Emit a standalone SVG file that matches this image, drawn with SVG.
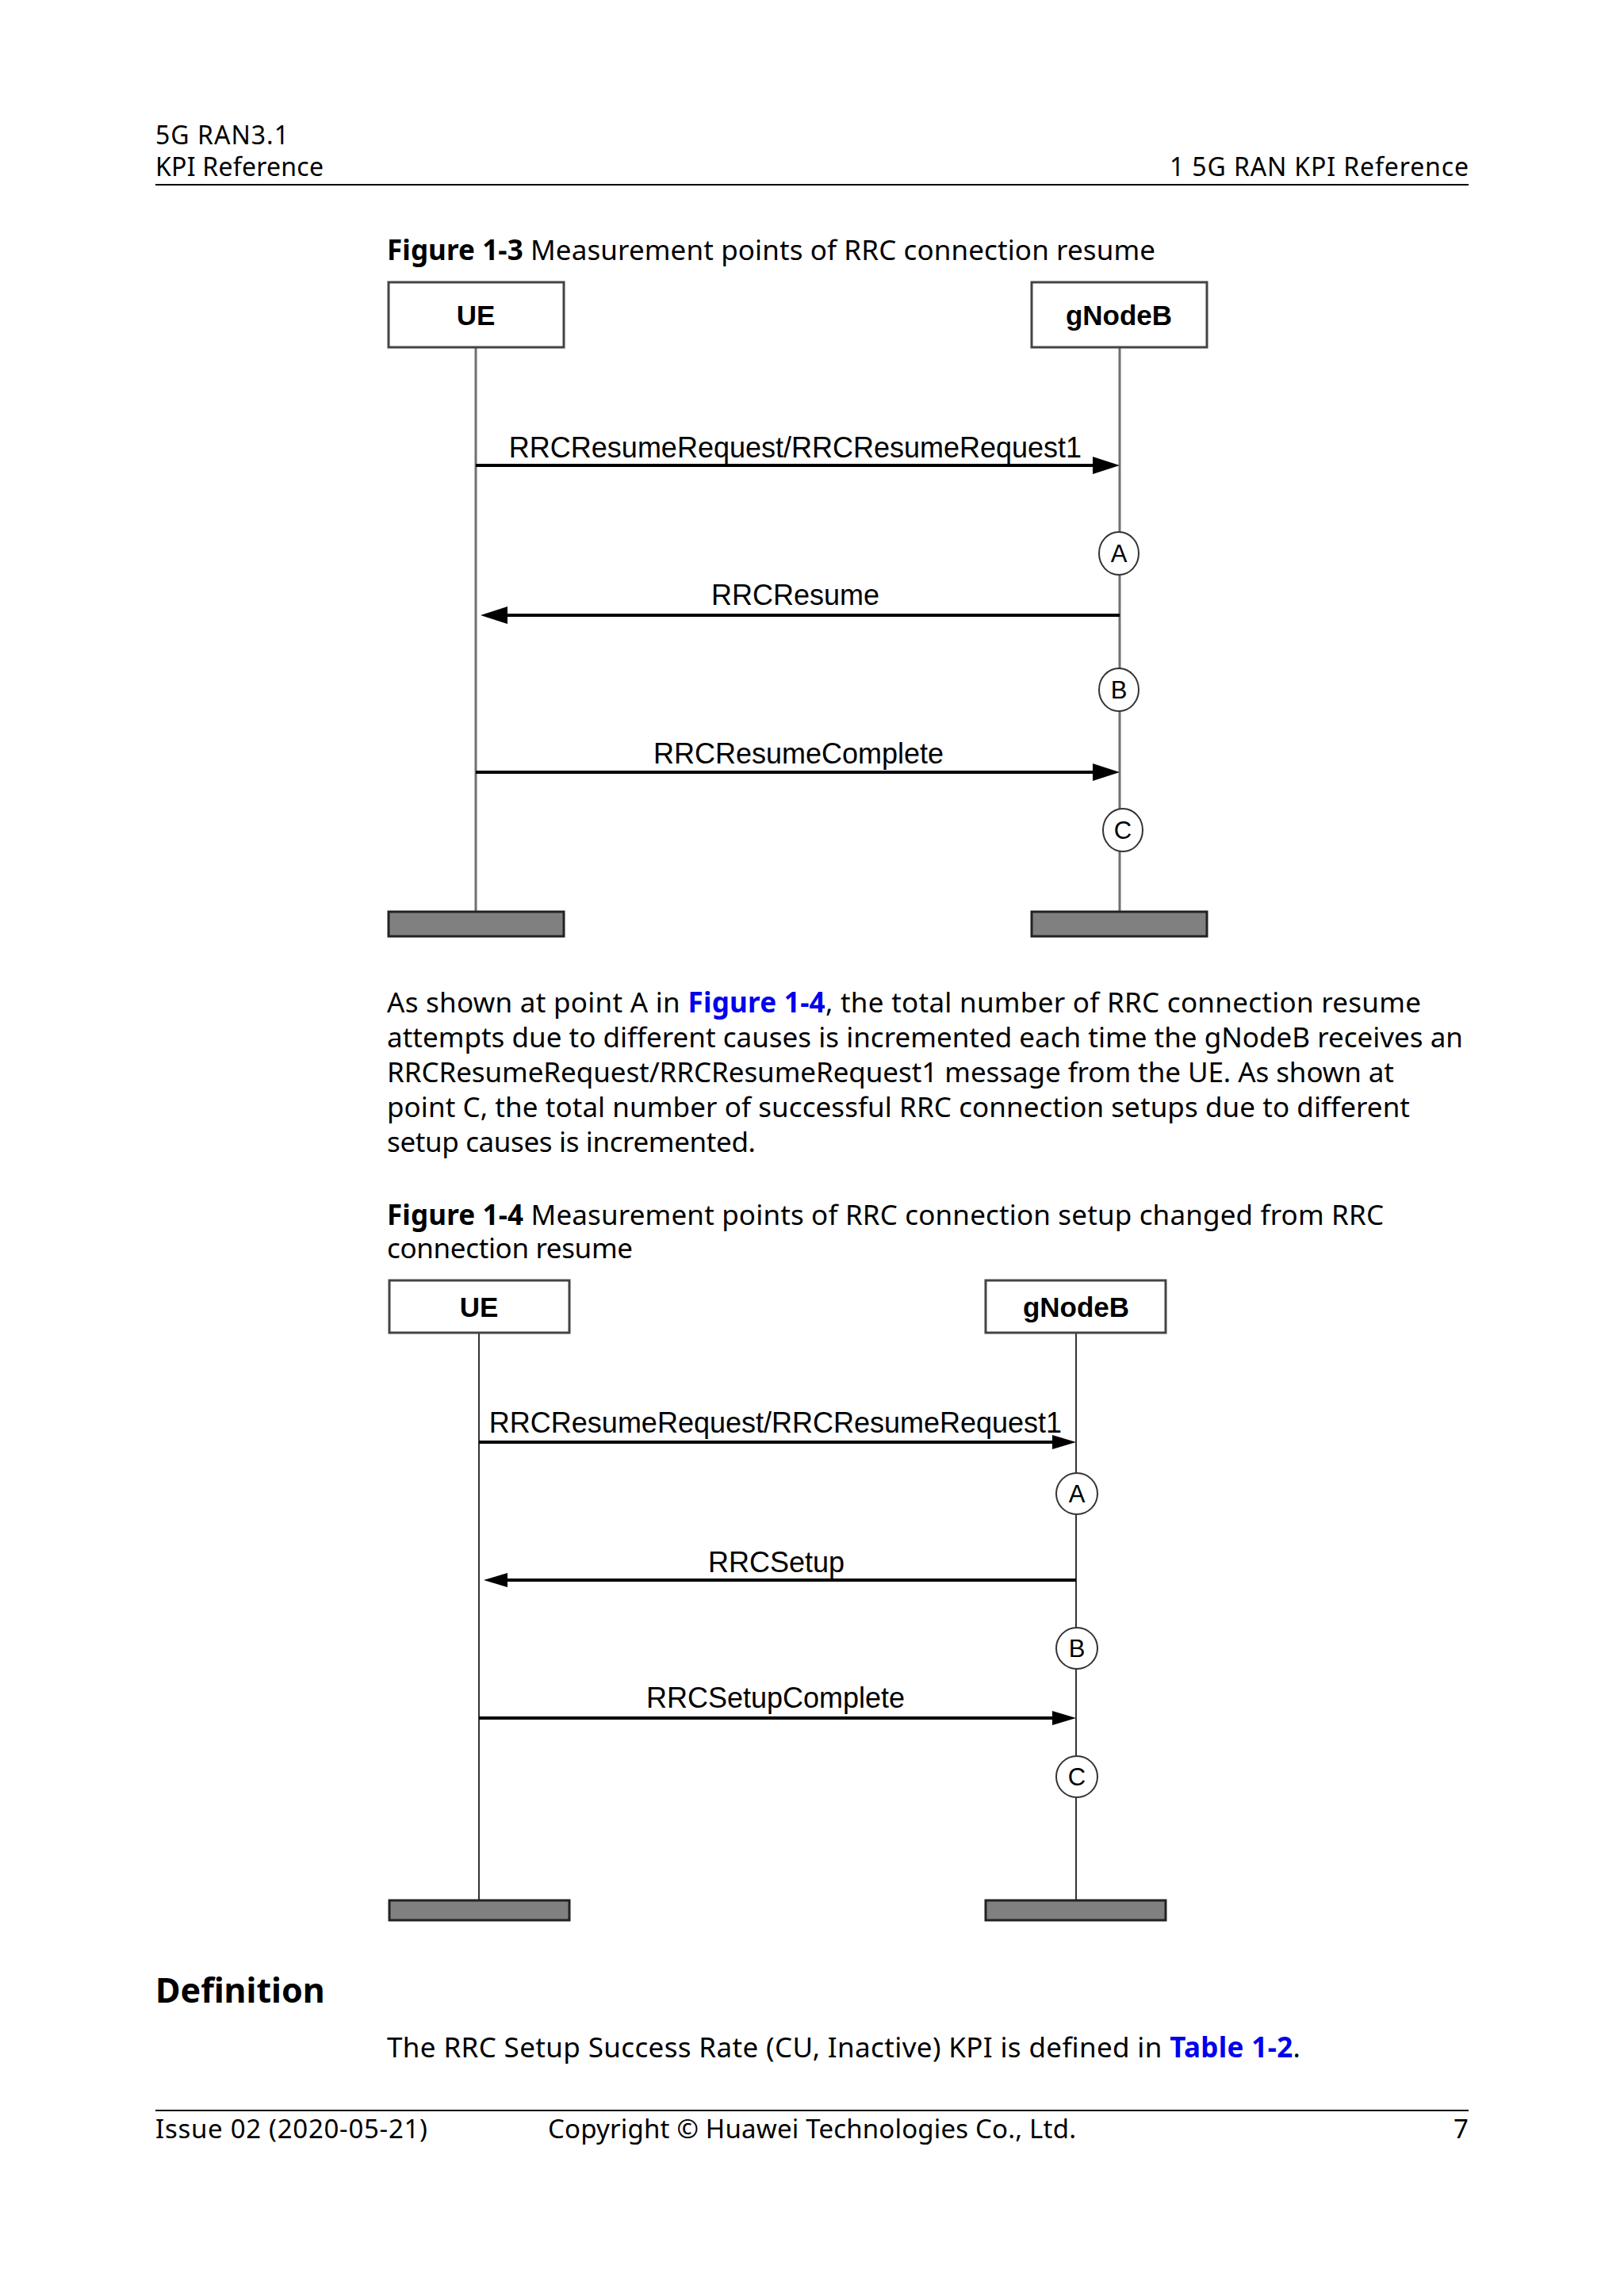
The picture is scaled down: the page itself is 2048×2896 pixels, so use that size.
<svg xmlns="http://www.w3.org/2000/svg" width="2048" height="2896" viewBox="0 0 2048 2896">
<style>
.doc{font-family:"Noto Sans","Open Sans",sans-serif;font-size:35px;fill:#000}
.hf{font-size:32px}
.ft{font-size:33px}
.b{font-weight:bold}
.link{font-weight:bold;fill:#0000ee}
.h{font-size:43px;font-weight:bold}
.rule{stroke:#000;stroke-width:2}
.box{fill:#fff;stroke:#444;stroke-width:3}
.boxt{font-family:"Liberation Sans",Arial,sans-serif;font-weight:bold;font-size:35px;text-anchor:middle;fill:#000}
.life1{stroke:#707070;stroke-width:3}
.life2{stroke:#333;stroke-width:2}
.bar{fill:#808080;stroke:#222;stroke-width:3}
.msg{stroke:#000;stroke-width:4;fill:none}
.msgt{font-family:"Liberation Sans",Arial,sans-serif;font-size:36px;text-anchor:middle;fill:#000}
.pt{fill:#fff;stroke:#333;stroke-width:2}
.ptt{font-family:"Liberation Sans",Arial,sans-serif;font-size:31px;text-anchor:middle;fill:#000}
</style>
<defs>
<marker id="ah1" markerUnits="userSpaceOnUse" markerWidth="36" markerHeight="24" refX="0" refY="11" orient="auto"><path d="M0,0 L34,11 L0,22 z" fill="#000"/></marker>
<marker id="ah2" markerUnits="userSpaceOnUse" markerWidth="32" markerHeight="20" refX="0" refY="9" orient="auto"><path d="M0,0 L30,9 L0,18 z" fill="#000"/></marker>
</defs>
<rect width="2048" height="2896" fill="#fff"/>

<!-- page header -->
<g id="header" class="doc hf">
<text x="196" y="182" textLength="168" lengthAdjust="spacing">5G RAN3.1</text>
<text x="196" y="222" textLength="212" lengthAdjust="spacing">KPI Reference</text>
<text x="1852" y="222" text-anchor="end" textLength="377" lengthAdjust="spacing">1 5G RAN KPI Reference</text>
<line class="rule" x1="196" y1="233" x2="1852" y2="233"/>
</g>

<!-- Figure 1-3 -->
<text id="fig13-title" class="doc" x="488" y="328" textLength="969" lengthAdjust="spacing"><tspan class="b">Figure 1-3</tspan> Measurement points of RRC connection resume</text>

<g id="fig13">
<g id="fig13-lifelines">
<line class="life1" x1="600" y1="438" x2="600" y2="1150"/>
<line class="life1" x1="1412" y1="438" x2="1412" y2="1150"/>
</g>
<g id="fig13-ue"><rect class="box" x="490" y="356" width="221" height="82"/><text class="boxt" x="600" y="410">UE</text></g>
<g id="fig13-gnb"><rect class="box" x="1301" y="356" width="221" height="82"/><text class="boxt" x="1411" y="410">gNodeB</text></g>
<g id="fig13-ue-end"><rect class="bar" x="490" y="1150" width="221" height="31"/></g>
<g id="fig13-gnb-end"><rect class="bar" x="1301" y="1150" width="221" height="31"/></g>
<g id="fig13-connectors">
<path class="msg" d="M600,587 L1378,587" marker-end="url(#ah1)"/>
<text class="msgt" x="1003" y="577">RRCResumeRequest/RRCResumeRequest1</text>
<path class="msg" d="M1412,776 L640,776" marker-end="url(#ah1)"/>
<text class="msgt" x="1003" y="763">RRCResume</text>
<path class="msg" d="M600,974 L1378,974" marker-end="url(#ah1)"/>
<text class="msgt" x="1007" y="963">RRCResumeComplete</text>
</g>
<g id="fig13-A"><ellipse class="pt" cx="1411" cy="698" rx="25" ry="27"/><text class="ptt" x="1411" y="709">A</text></g>
<g id="fig13-B"><ellipse class="pt" cx="1411" cy="870" rx="25" ry="27"/><text class="ptt" x="1411" y="881">B</text></g>
<g id="fig13-C"><ellipse class="pt" cx="1416" cy="1047" rx="25" ry="27"/><text class="ptt" x="1416" y="1058">C</text></g>
</g>

<!-- body paragraph -->
<g id="para1" class="doc">
<text x="488" y="1277" textLength="1304" lengthAdjust="spacing">As shown at point A in <tspan class="link">Figure 1-4</tspan>, the total number of RRC connection resume</text>
<text x="488" y="1321" textLength="1357" lengthAdjust="spacing">attempts due to different causes is incremented each time the gNodeB receives an</text>
<text x="488" y="1365" textLength="1270" lengthAdjust="spacing">RRCResumeRequest/RRCResumeRequest1 message from the UE. As shown at</text>
<text x="488" y="1409" textLength="1290" lengthAdjust="spacing">point C, the total number of successful RRC connection setups due to different</text>
<text x="488" y="1453" textLength="465" lengthAdjust="spacing">setup causes is incremented.</text>
</g>

<!-- Figure 1-4 -->
<g id="fig14-title" class="doc">
<text x="488" y="1545" textLength="1257" lengthAdjust="spacing"><tspan class="b">Figure 1-4</tspan> Measurement points of RRC connection setup changed from RRC</text>
<text x="488" y="1587" textLength="310" lengthAdjust="spacing">connection resume</text>
</g>

<g id="fig14">
<g id="fig14-lifelines">
<line class="life2" x1="604" y1="1681" x2="604" y2="2397"/>
<line class="life2" x1="1357" y1="1681" x2="1357" y2="2397"/>
</g>
<g id="fig14-ue"><rect class="box" x="491" y="1615" width="227" height="66"/><text class="boxt" x="604" y="1661">UE</text></g>
<g id="fig14-gnb"><rect class="box" x="1243" y="1615" width="227" height="66"/><text class="boxt" x="1357" y="1661">gNodeB</text></g>
<g id="fig14-ue-end"><rect class="bar" x="491" y="2397" width="227" height="25"/></g>
<g id="fig14-gnb-end"><rect class="bar" x="1243" y="2397" width="227" height="25"/></g>
<g id="fig14-connectors">
<path class="msg" d="M604,1819 L1327,1819" marker-end="url(#ah2)"/>
<text class="msgt" x="978" y="1807">RRCResumeRequest/RRCResumeRequest1</text>
<path class="msg" d="M1357,1993 L640,1993" marker-end="url(#ah2)"/>
<text class="msgt" x="979" y="1983">RRCSetup</text>
<path class="msg" d="M604,2167 L1327,2167" marker-end="url(#ah2)"/>
<text class="msgt" x="978" y="2154">RRCSetupComplete</text>
</g>
<g id="fig14-A"><ellipse class="pt" cx="1358" cy="1884" rx="26" ry="26"/><text class="ptt" x="1358" y="1895">A</text></g>
<g id="fig14-B"><ellipse class="pt" cx="1358" cy="2079" rx="26" ry="26"/><text class="ptt" x="1358" y="2090">B</text></g>
<g id="fig14-C"><ellipse class="pt" cx="1358" cy="2241" rx="26" ry="26"/><text class="ptt" x="1358" y="2252">C</text></g>
</g>

<!-- Definition -->
<g id="definition" class="doc">
<text class="h" x="196" y="2526">Definition</text>
<text x="488" y="2595" textLength="1152" lengthAdjust="spacing">The RRC Setup Success Rate (CU, Inactive) KPI is defined in <tspan class="link">Table 1-2</tspan>.</text>
</g>

<!-- footer -->
<g id="footer" class="doc ft">
<line class="rule" x1="196" y1="2662" x2="1852" y2="2662"/>
<text x="196" y="2697" textLength="343" lengthAdjust="spacing">Issue 02 (2020-05-21)</text>
<text x="691" y="2697" textLength="666" lengthAdjust="spacing">Copyright © Huawei Technologies Co., Ltd.</text>
<text x="1852" y="2697" text-anchor="end">7</text>
</g>
</svg>
